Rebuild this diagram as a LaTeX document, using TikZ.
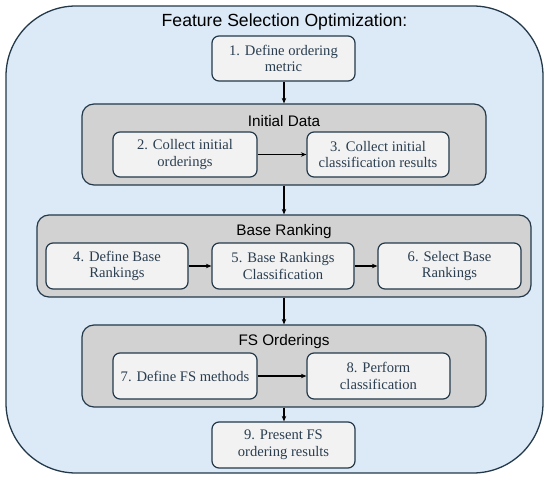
\documentclass[tikz,border=0pt]{standalone}
\usepackage{fontspec}
\setmainfont{Liberation Serif}
\setsansfont{Liberation Sans}
\usetikzlibrary{arrows.meta}
\definecolor{outerfill}{HTML}{DCE9F6}
\definecolor{edgecol}{HTML}{23394A}
\definecolor{groupfill}{HTML}{D2D2D2}
\definecolor{boxfill}{HTML}{F2F2F2}
\definecolor{boxtext}{HTML}{2A3E50}
\tikzset{
  outerbox/.style={draw=edgecol, fill=outerfill, line width=1.3pt, rounded corners=70pt},
  groupbox/.style={draw=edgecol, fill=groupfill, line width=1.2pt, rounded corners=12pt, inner sep=0pt},
  stepbox/.style={draw=edgecol, fill=boxfill, line width=1.2pt, rounded corners=7pt, inner sep=0pt,
     align=center, text=boxtext, font=\fontsize{14.6}{16.7}\selectfont},
  grouplabel/.style={font=\sffamily\fontsize{15.3}{18}\selectfont, text=black, inner sep=0pt},
  flow/.style={-{Stealth[length=5.5pt,width=4.5pt]}, line width=1.3pt, black}
}
\begin{document}
\begin{tikzpicture}[x=1pt,y=-1pt]
\useasboundingbox (0,0) rectangle (550,481);
\draw[outerbox] (6,6) rectangle (543,473);
\node[font=\sffamily\fontsize{17.6}{20}\selectfont, inner sep=0pt] (title) at (284.5,22) {Feature Selection Optimization:};

\node[stepbox, minimum width=143pt, minimum height=45pt] (b1) at (283.5,58.5) {1. Define ordering\\metric};

\node[groupbox, minimum width=404pt, minimum height=81pt] (g1) at (284,144.5) {};
\node[grouplabel] (l1) at (284,121) {Initial Data};
\node[stepbox, minimum width=144pt, minimum height=45pt] (b2) at (185,154.5) {2. Collect initial\\orderings};
\node[stepbox, minimum width=142pt, minimum height=45pt] (b3) at (378,154.5) {3. Collect initial\\classification results};

\node[groupbox, minimum width=494pt, minimum height=82pt] (g2) at (284,256) {};
\node[grouplabel] (l2) at (284,232) {Base Ranking};
\node[stepbox, minimum width=142pt, minimum height=46pt] (b4) at (117,266) {4. Define Base\\Rankings};
\node[stepbox, minimum width=142pt, minimum height=46pt] (b5) at (283,266) {5. Base Rankings\\Classification};
\node[stepbox, minimum width=143pt, minimum height=46pt] (b6) at (449.5,266) {6. Select Base\\Rankings};

\node[groupbox, minimum width=404pt, minimum height=82pt] (g3) at (284,366) {};
\node[grouplabel] (l3) at (284,342) {FS Orderings};
\node[stepbox, minimum width=144pt, minimum height=46pt] (b7) at (185,376) {7. Define FS methods};
\node[stepbox, minimum width=143pt, minimum height=46pt] (b8) at (378.5,376) {8. Perform\\classification};

\node[stepbox, minimum width=143pt, minimum height=46pt] (b9) at (283.5,445) {9. Present FS\\ordering results};

\draw[flow] (b1.south -| g1.north) -- (g1.north);
\draw[flow] (g1.south) -- (g2.north);
\draw[flow] (g2.south) -- (g3.north);
\draw[flow] (g3.south) -- (g3.south |- b9.north);
\draw[flow] (b2) -- (b3);
\draw[flow] (b4) -- (b5);
\draw[flow] (b5) -- (b6);
\draw[flow] (b7) -- (b8);
\end{tikzpicture}
\end{document}
